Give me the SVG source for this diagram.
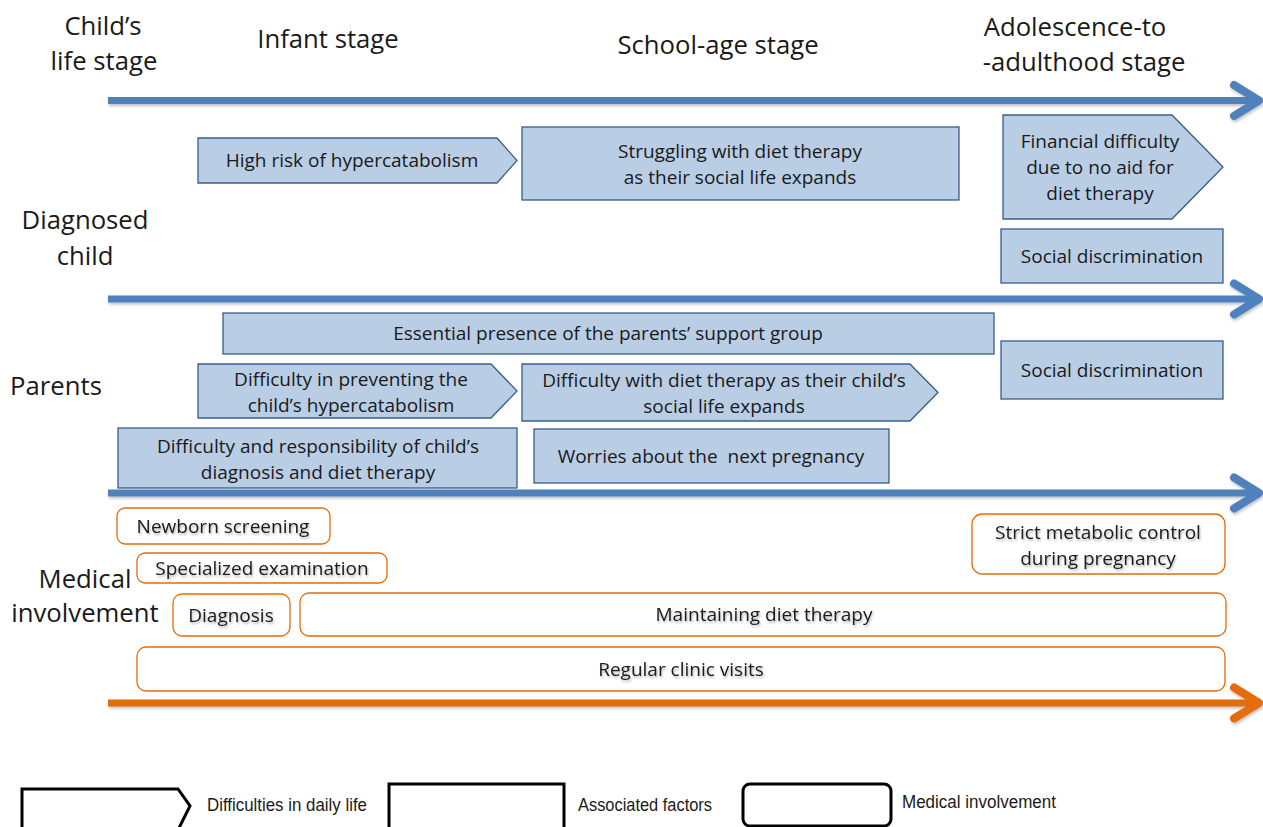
<svg xmlns="http://www.w3.org/2000/svg" width="1263" height="827" viewBox="0 0 1263 827">
<style>
  .hdr{font-family:"Open Sans","Liberation Sans",sans-serif;font-size:25.7px;fill:#1a1a1a;text-anchor:middle}
  .t{font-family:"Open Sans","Liberation Sans",sans-serif;font-size:19px;fill:#1a1a1a;text-anchor:middle}
  .to{font-family:"Open Sans","Liberation Sans",sans-serif;font-size:19px;fill:#1a1a1a;text-anchor:middle;filter:url(#ts)}
  .lg{font-family:"Liberation Sans Narrow","Liberation Sans",sans-serif;font-size:17.5px;fill:#1a1a1a}
  .b{fill:#B9CDE5;stroke:#385D8A;stroke-width:1.3}
  .o{fill:#fff;stroke:#E46C0A;stroke-width:1.3}
  .lb{fill:#fff;stroke:#000;stroke-width:3}
  .ax{fill:none;stroke:#4F81BD;stroke-width:7}
  .ah{fill:none;stroke:#4F81BD;stroke-width:8;stroke-linecap:round;stroke-linejoin:round}
  .axo{fill:none;stroke:#E46C0A;stroke-width:7}
  .aho{fill:none;stroke:#E46C0A;stroke-width:8;stroke-linecap:round;stroke-linejoin:round}
</style>
<defs>
  <filter id="sh" x="-5%" y="-50%" width="110%" height="200%">
    <feGaussianBlur in="SourceAlpha" stdDeviation="1.5"/>
    <feOffset dx="1" dy="2" result="b"/>
    <feComponentTransfer><feFuncA type="linear" slope="0.25"/></feComponentTransfer>
    <feMerge><feMergeNode/><feMergeNode in="SourceGraphic"/></feMerge>
  </filter>
  <filter id="ts" x="-5%" y="-20%" width="110%" height="150%">
    <feGaussianBlur in="SourceAlpha" stdDeviation="1"/>
    <feOffset dx="1" dy="1.5"/>
    <feComponentTransfer><feFuncA type="linear" slope="0.3"/></feComponentTransfer>
    <feMerge><feMergeNode/><feMergeNode in="SourceGraphic"/></feMerge>
  </filter>
</defs>
<rect width="1263" height="827" fill="#fff"/>

<g id="labels">
  <text class="hdr" x="103" y="35">Child’s</text>
  <text class="hdr" x="104" y="70">life stage</text>
  <text class="hdr" x="328" y="48">Infant stage</text>
  <text class="hdr" x="718" y="54">School-age stage</text>
  <text class="hdr" x="1075" y="36">Adolescence-to</text>
  <text class="hdr" x="1084" y="71">-adulthood stage</text>
  <text class="hdr" x="85" y="229">Diagnosed</text>
  <text class="hdr" x="85" y="265">child</text>
  <text class="hdr" x="56" y="395">Parents</text>
  <text class="hdr" x="85" y="588">Medical</text>
  <text class="hdr" x="85" y="622">involvement</text>
</g>

<g id="connectors" filter="url(#sh)">
  <line class="ax" x1="108" y1="100.5" x2="1258" y2="100.5"/>
  <polyline class="ah" points="1234,85 1259,100.5 1234,116"/>
  <line class="ax" x1="108" y1="299" x2="1258" y2="299"/>
  <polyline class="ah" points="1234,283.5 1259,299 1234,314.5"/>
  <line class="ax" x1="108" y1="493" x2="1258" y2="493"/>
  <polyline class="ah" points="1234,477.5 1259,493 1234,508.5"/>
  <line class="axo" x1="108" y1="703" x2="1258" y2="703"/>
  <polyline class="aho" points="1234,687.5 1259,703 1234,718.5"/>
</g>

<g id="n-highrisk">
  <polygon class="b" points="198,138 497,138 517,160.5 497,183 198,183"/>
  <text class="t" x="352" y="167">High risk of hypercatabolism</text>
</g>
<g id="n-struggling">
  <rect class="b" x="522" y="127" width="437" height="73"/>
  <text class="t" x="740" y="158">Struggling with diet therapy</text>
  <text class="t" x="740" y="184">as their social life expands</text>
</g>
<g id="n-financial">
  <polygon class="b" points="1003,115 1172,115 1223,167 1172,219 1003,219"/>
  <text class="t" x="1100" y="148">Financial difficulty</text>
  <text class="t" x="1100" y="174">due to no aid for</text>
  <text class="t" x="1100" y="200">diet therapy</text>
</g>
<g id="n-social1">
  <rect class="b" x="1001" y="229" width="222" height="54"/>
  <text class="t" x="1112" y="263">Social discrimination</text>
</g>
<g id="n-essential">
  <rect class="b" x="223" y="313" width="771" height="41"/>
  <text class="t" x="608" y="340">Essential presence of the parents’ support group</text>
</g>
<g id="n-preventing">
  <polygon class="b" points="198,364 491,364 517,391 491,418 198,418"/>
  <text class="t" x="351" y="386">Difficulty in preventing the</text>
  <text class="t" x="351" y="412">child’s hypercatabolism</text>
</g>
<g id="n-dietparents">
  <polygon class="b" points="522,364 910,364 938,392.5 910,421 522,421"/>
  <text class="t" x="724" y="387">Difficulty with diet therapy as their child’s</text>
  <text class="t" x="724" y="413">social life expands</text>
</g>
<g id="n-social2">
  <rect class="b" x="1001" y="341" width="222" height="58"/>
  <text class="t" x="1112" y="377">Social discrimination</text>
</g>
<g id="n-responsibility">
  <rect class="b" x="118" y="428" width="399" height="60"/>
  <text class="t" x="318" y="453">Difficulty and responsibility of child’s</text>
  <text class="t" x="318" y="479">diagnosis and diet therapy</text>
</g>
<g id="n-worries">
  <rect class="b" x="534" y="429" width="355" height="54"/>
  <text class="t" x="711" y="463">Worries about the&#160; next pregnancy</text>
</g>

<g id="n-newborn">
  <rect class="o" x="117" y="508" width="213" height="36" rx="8"/>
  <text class="to" x="223" y="533">Newborn screening</text>
</g>
<g id="n-specialized">
  <rect class="o" x="137" y="553" width="250" height="30" rx="8"/>
  <text class="to" x="262" y="575">Specialized examination</text>
</g>
<g id="n-diagnosis">
  <rect class="o" x="173" y="594" width="117" height="42" rx="9"/>
  <text class="to" x="231" y="622">Diagnosis</text>
</g>
<g id="n-maintaining">
  <rect class="o" x="300" y="593" width="926" height="43" rx="9"/>
  <text class="to" x="764" y="621">Maintaining diet therapy</text>
</g>
<g id="n-clinic">
  <rect class="o" x="137" y="647" width="1088" height="44" rx="9"/>
  <text class="to" x="681" y="676">Regular clinic visits</text>
</g>
<g id="n-strict">
  <rect class="o" x="972" y="514" width="253" height="60" rx="10"/>
  <text class="to" x="1098" y="539">Strict metabolic control</text>
  <text class="to" x="1098" y="565">during pregnancy</text>
</g>

<g id="legend">
  <polygon class="lb" points="22,830 22,789 178,789 190,806 178,830"/>
  <text class="lg" x="207" y="811" textLength="160" lengthAdjust="spacingAndGlyphs">Difficulties in daily life</text>
  <rect class="lb" x="389" y="784" width="175" height="48"/>
  <text class="lg" x="578" y="811" textLength="134" lengthAdjust="spacingAndGlyphs">Associated factors</text>
  <rect class="lb" x="743" y="784" width="148" height="42" rx="7"/>
  <text class="lg" x="902" y="808" textLength="154" lengthAdjust="spacingAndGlyphs">Medical involvement</text>
</g>
</svg>
